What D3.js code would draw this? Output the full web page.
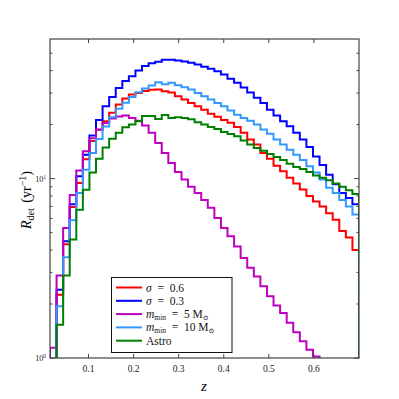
<!DOCTYPE html>
<html>
<head>
<meta charset="utf-8">
<script src="https://cdn.jsdelivr.net/npm/d3@7"></script>
<style>
  body { margin: 0; background: #fff; }
  svg text { font-family: "Liberation Serif", "DejaVu Serif", serif; }
</style>
</head>
<body>
<svg id="chart" width="399" height="399"></svg>
<script>
// bins in redshift
const binWidth = 0.7 / 48;
const zEdges = d3.range(1, 49).map(k => k * binWidth);

// detection rates per bin (yr^-1)
const sigma06 = [0.6, 2.25, 4.3, 6.95, 9.45, 12.8, 16.2, 18.7, 20.9, 23.3, 25.9, 28.0, 29.4, 30.0, 30.8, 31.3, 31.4, 30.7, 30.2, 28.8, 27.6, 26.4, 25.3, 24.2, 23.0, 22.1, 21.2, 20.5, 19.4, 18.0, 16.5, 15.5, 13.9, 12.9, 11.8, 11.0, 10.1, 9.4, 8.7, 8.0, 7.45, 7.0, 6.4, 5.9, 5.1, 4.7, 4.0];
const sigma03 = [0.6, 2.4, 4.47, 7.2, 10.3, 13.6, 17.4, 21.2, 25.3, 28.5, 32.0, 35.0, 37.2, 40.0, 42.4, 43.9, 44.8, 46.0, 46.0, 45.5, 45.0, 44.3, 43.3, 42.0, 41.0, 39.6, 38.0, 36.0, 34.2, 32.2, 30.2, 28.2, 26.4, 24.2, 22.5, 20.9, 19.6, 18.0, 16.5, 15.0, 13.3, 11.9, 10.5, 9.3, 8.3, 7.8, 7.2];
const mmin5 = [1.14, 2.88, 5.3, 8.1, 11.1, 14.2, 16.8, 18.8, 20.4, 21.6, 22.2, 22.5, 21.8, 21.0, 19.8, 18.0, 15.8, 13.9, 12.2, 10.9, 9.9, 9.0, 8.3, 7.6, 6.87, 6.03, 5.3, 4.77, 4.19, 3.61, 3.18, 2.85, 2.51, 2.21, 1.96, 1.78, 1.57, 1.39, 1.24, 1.11, 1.02, 0.92, 0.83, 0.75, 0.68, 0.61, 0.55];
const mmin10 = [0.4, 1.94, 3.65, 5.85, 8.3, 11.2, 13.9, 16.6, 19.5, 22.0, 24.5, 26.5, 28.5, 30.3, 31.8, 33.0, 34.4, 33.6, 34.2, 33.1, 32.3, 31.4, 30.0, 28.8, 27.6, 26.4, 25.3, 24.0, 22.7, 21.8, 21.0, 20.0, 18.8, 17.8, 16.5, 15.5, 14.5, 13.6, 12.7, 11.7, 10.8, 9.9, 8.9, 8.3, 7.6, 7.0, 6.3];
const astro = [0.3, 1.53, 2.88, 4.57, 6.7, 8.66, 10.8, 12.9, 14.9, 16.7, 18.0, 19.3, 20.0, 20.9, 22.3, 22.3, 21.5, 22.6, 21.8, 22.0, 21.8, 21.4, 20.6, 20.0, 19.4, 18.9, 18.2, 17.7, 17.2, 16.3, 15.5, 14.8, 14.3, 13.7, 13.2, 12.7, 12.1, 11.6, 11.3, 10.9, 10.4, 10.1, 9.8, 9.4, 9.0, 8.6, 8.2];

const xTicks = [0.1, 0.2, 0.3, 0.4, 0.5, 0.6];
const yMajor = [1, 10];
const yMinor = [2, 3, 4, 5, 6, 7, 8, 9, 20, 30, 40, 50];

const series = [
  { key: "s06", values: sigma06, color: "#ff0000" },
  { key: "s03", values: sigma03, color: "#0000ff" },
  { key: "m5", values: mmin5, color: "#bf00bf" },
  { key: "m10", values: mmin10, color: "#3399ff" },
  { key: "astro", values: astro, color: "#008000" }
];

const x0 = 50, x1 = 359, y0 = 39, y1 = 358;
const svg = d3.select("#chart");

const x = d3.scaleLinear().domain([0.0146, 0.7]).range([x0, x1]);
const y = d3.scaleLog().domain([1, 60]).range([y1, y0]);

svg.append("defs").append("clipPath").attr("id", "plot")
  .append("rect")
  .attr("x", x0).attr("y", y0)
  .attr("width", x1 - x0).attr("height", y1 - y0);

// STEP HISTOGRAMS
function stepPoints(values) {
  const pts = [[x(zEdges[0]), y1 + 40]];
  values.forEach((v, i) => {
    pts.push([x(zEdges[i]), y(v)]);
    pts.push([x(zEdges[i + 1]), y(v)]);
  });
  pts.push([x(zEdges[values.length]), y1 + 40]);
  return pts;
}

const lines = svg.append("g").attr("clip-path", "url(#plot)");
lines.selectAll("path")
  .data(series)
  .enter().append("path")
  .attr("d", s => d3.line()(stepPoints(s.values)))
  .attr("fill", "none")
  .attr("stroke", s => s.color)
  .attr("stroke-width", 2)
  .attr("stroke-linejoin", "miter");

// FRAME AND TICKS
const axisColor = "#444";
const ticks = svg.append("g").attr("stroke", axisColor).attr("stroke-width", 1);
xTicks.forEach(t => {
  ticks.append("line").attr("x1", x(t)).attr("x2", x(t)).attr("y1", y1).attr("y2", y1 - 4);
  ticks.append("line").attr("x1", x(t)).attr("x2", x(t)).attr("y1", y0).attr("y2", y0 + 4);
});
yMajor.forEach(t => {
  ticks.append("line").attr("x1", x0).attr("x2", x0 + 5).attr("y1", y(t)).attr("y2", y(t));
  ticks.append("line").attr("x1", x1).attr("x2", x1 - 5).attr("y1", y(t)).attr("y2", y(t));
});
yMinor.forEach(t => {
  ticks.append("line").attr("x1", x0).attr("x2", x0 + 2.5).attr("y1", y(t)).attr("y2", y(t));
  ticks.append("line").attr("x1", x1).attr("x2", x1 - 2.5).attr("y1", y(t)).attr("y2", y(t));
});

svg.append("rect")
  .attr("x", x0).attr("y", y0)
  .attr("width", x1 - x0).attr("height", y1 - y0)
  .attr("fill", "none").attr("stroke", axisColor).attr("stroke-width", 1.2);

// TICK LABELS
svg.append("g").selectAll("text")
  .data(xTicks)
  .enter().append("text")
  .attr("x", d => x(d))
  .attr("y", 372)
  .attr("text-anchor", "middle")
  .attr("font-size", 9.5)
  .attr("fill", "#222")
  .text(d => d3.format(".1f")(d));

const yl = svg.append("g").selectAll("text")
  .data(yMajor)
  .enter().append("text")
  .attr("x", 46)
  .attr("y", d => y(d) + 3)
  .attr("text-anchor", "end")
  .attr("font-size", 8)
  .attr("fill", "#222");
yl.append("tspan").text("10");
yl.append("tspan").attr("dy", -3).attr("font-size", 5.5).text(d => Math.round(Math.log10(d)));

// AXIS LABELS
svg.append("text")
  .attr("x", 204).attr("y", 391)
  .attr("text-anchor", "middle")
  .attr("font-size", 15)
  .attr("font-style", "italic")
  .text("z");

const ylab = svg.append("text")
  .attr("transform", "translate(31,200) rotate(-90)")
  .attr("text-anchor", "middle")
  .attr("font-size", 14);
ylab.append("tspan").attr("font-style", "italic").text("R");
ylab.append("tspan").attr("dy", 3).attr("font-size", 10).text("det");
ylab.append("tspan").attr("dy", -3).text("\u2009\u2009(yr");
ylab.append("tspan").attr("dy", -5).attr("font-size", 10).text("\u22121");
ylab.append("tspan").attr("dy", 5).text(")");

// LEGEND
const legend = svg.append("g");
legend.append("rect")
  .attr("x", 111.5).attr("y", 277.5)
  .attr("width", 120.5).attr("height", 75)
  .attr("fill", "#fff").attr("stroke", "#111").attr("stroke-width", 1);

const rowY = [287.5, 300.8, 314.1, 327.4, 340.7];
series.forEach((s, i) => {
  legend.append("line")
    .attr("x1", 116).attr("x2", 142)
    .attr("y1", rowY[i]).attr("y2", rowY[i])
    .attr("stroke", s.color).attr("stroke-width", 2);
  const t = legend.append("text")
    .attr("x", 146).attr("y", rowY[i] + 4)
    .attr("font-size", 11.5).attr("fill", "#111");
  if (s.key === "s06" || s.key === "s03") {
    t.append("tspan").attr("font-style", "italic").text("\u03c3");
    t.append("tspan").text(s.key === "s06" ? "\u2002=\u20020.6" : "\u2002=\u20020.3");
  } else if (s.key === "m5" || s.key === "m10") {
    t.append("tspan").attr("font-style", "italic").text("m");
    t.append("tspan").attr("dy", 1.5).attr("font-size", 7.5).text("min");
    t.append("tspan").attr("dy", -1.5).text(s.key === "m5" ? "\u2002=\u20025 M" : "\u2002=\u200210 M");
    t.append("tspan").attr("dy", 1.5).attr("font-size", 7).text("\u2299");
  } else {
    t.text("Astro");
  }
});
</script>
</body>
</html>
